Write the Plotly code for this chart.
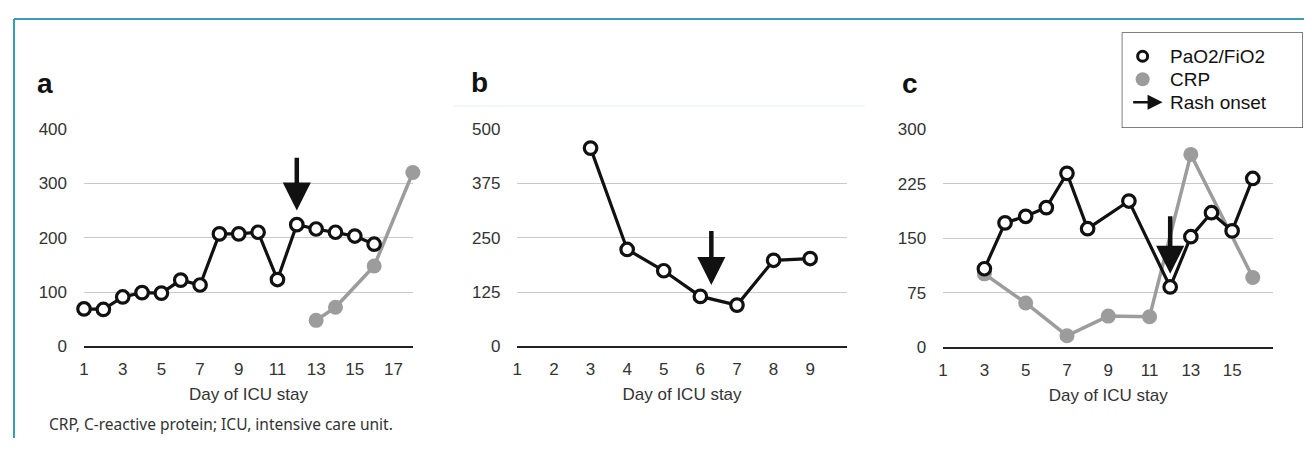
import plotly.graph_objects as go

# ---------------- data ----------------
# Panel a
a_days_pf = [1, 2, 3, 4, 5, 6, 7, 8, 9, 10, 11, 12, 13, 14, 15, 16]
a_pf = [69, 68, 91, 99, 98, 122, 113, 207, 207, 210, 123, 224, 216, 210, 203, 188]
a_days_crp = [13, 14, 16, 18]
a_crp = [48, 72, 148, 320]
a_rash = {"day": 12, "tip": 250, "tail": 350}
a_yticks = [0, 100, 200, 300, 400]
a_xticks = [1, 3, 5, 7, 9, 11, 13, 15, 17]

# Panel b
b_days_pf = [3, 4, 5, 6, 7, 8, 9]
b_pf = [456, 223, 174, 115, 95, 198, 202]
b_rash = {"day": 6.3, "tip": 141, "tail": 269}
b_yticks = [0, 125, 250, 375, 500]
b_xticks = [1, 2, 3, 4, 5, 6, 7, 8, 9]

# Panel c
c_days_pf = [3, 4, 5, 6, 7, 8, 10, 12, 13, 14, 15, 16]
c_pf = [108, 171, 180, 192, 239, 163, 201, 83, 152, 185, 160, 232]
c_days_crp = [3, 5, 7, 9, 11, 13, 16]
c_crp = [101, 61, 16, 43, 42, 265, 96]
c_rash = {"day": 12, "tip": 101, "tail": 182}
c_yticks = [0, 75, 150, 225, 300]
c_xticks = [1, 3, 5, 7, 9, 11, 13, 15]

panel_labels = ["a", "b", "c"]
x_title = "Day of ICU stay"
legend_labels = ["PaO2/FiO2", "CRP", "Rash onset"]
caption = "CRP, C-reactive protein; ICU, intensive care unit."

# ---------------- style ----------------
# The page body keeps its default 8px margin, so the figure is 16px smaller than
# the 1312x456 window and sits at (8, 8).
OFF = 8
W, H = 1312 - 2 * OFF, 456 - 2 * OFF
BLACK = "#111111"
GRAY = "#9c9c9c"
GRID = "#c9c9c9"
FONT = "Liberation Sans, Arial, sans-serif"
TICKFONT = dict(family=FONT, size=17, color="#333333")


def px(x):
    return min(1.0, max(0.0, (x - OFF) / W))


def py(y):
    return min(1.0, max(0.0, 1 - (y - OFF) / H))


fig = go.Figure()

pf_marker = dict(symbol="circle", size=12.5, color="white", line=dict(color=BLACK, width=3.2))
crp_marker = dict(symbol="circle", size=15, color=GRAY, line=dict(color=GRAY, width=0))

panels = [
    ("x", "y", a_days_crp, a_crp, a_days_pf, a_pf, a_rash),
    ("x2", "y2", None, None, b_days_pf, b_pf, b_rash),
    ("x3", "y3", c_days_crp, c_crp, c_days_pf, c_pf, c_rash),
]

for xa, ya, dc, vc, dp, vp, rash in panels:
    if dc is not None:
        fig.add_trace(go.Scatter(x=dc, y=vc, mode="lines+markers", xaxis=xa, yaxis=ya,
                                 line=dict(color=GRAY, width=3.5), marker=crp_marker,
                                 cliponaxis=False, showlegend=False, name="CRP"))
    fig.add_trace(go.Scatter(x=dp, y=vp, mode="lines+markers", xaxis=xa, yaxis=ya,
                             line=dict(color=BLACK, width=3.2), marker=pf_marker,
                             cliponaxis=False, showlegend=False, name="PaO2/FiO2"))
    fig.add_annotation(x=rash["day"], y=rash["tip"], ax=rash["day"], ay=rash["tail"],
                       xref=xa, yref=ya, axref=xa, ayref=ya, text="", showarrow=True,
                       arrowhead=2, arrowsize=1.25, arrowwidth=4.5, arrowcolor=BLACK)

# plot areas in window pixels (left, right, top, bottom)
dom = {
    "a": (79.3, 409.4, 125, 352.3),
    "b": (514.3, 845.0, 125, 352.3),
    "c": (941.7, 1273.3, 125, 353.3),
}


def xaxis_cfg(d, rng, ticks):
    return dict(domain=[px(d[0]), px(d[1])], range=rng, tickvals=ticks,
                showgrid=False, zeroline=False, showline=True, linecolor="#222222",
                linewidth=2, ticks="", tickfont=TICKFONT, ticklabelstandoff=6,
                title=dict(text=x_title, font=dict(family=FONT, size=17, color="#333333"),
                           standoff=10),
                fixedrange=True)


def yaxis_cfg(d, rng, ticks, anchor):
    return dict(domain=[py(d[3]), py(d[2])], range=rng, tickvals=ticks,
                showgrid=True, gridcolor=GRID, gridwidth=1, zeroline=False, showline=False,
                ticks="", tickfont=TICKFONT, ticklabelstandoff=16, anchor=anchor,
                fixedrange=True)


LEG = (1121, 1303, 24, 124)  # legend box, window pixels

fig.update_layout(
    width=W, height=H, autosize=False, margin=dict(l=0, r=0, t=0, b=0),
    paper_bgcolor="white", plot_bgcolor="white", showlegend=False,
    xaxis=dict(xaxis_cfg(dom["a"], [1, 18], a_xticks), anchor="y"),
    yaxis=yaxis_cfg(dom["a"], [0, 400], a_yticks, "x"),
    xaxis2=dict(xaxis_cfg(dom["b"], [1, 10], b_xticks), anchor="y2"),
    yaxis2=yaxis_cfg(dom["b"], [0, 500], b_yticks, "x2"),
    xaxis3=dict(xaxis_cfg(dom["c"], [1, 17], c_xticks), anchor="y3"),
    yaxis3=yaxis_cfg(dom["c"], [0, 300], c_yticks, "x3"),
    # legend-glyph axis (window-pixel units)
    xaxis4=dict(domain=[px(LEG[0]), px(LEG[1])], range=[LEG[0], LEG[1]], visible=False,
                anchor="y4", fixedrange=True),
    yaxis4=dict(domain=[py(LEG[3]), py(LEG[2])], range=[LEG[3], LEG[2]], visible=False,
                anchor="x4", fixedrange=True),
)

# frame (teal top and left rule)
fig.add_shape(type="line", xref="paper", yref="paper", x0=px(9), x1=1, y0=py(10), y1=py(10),
              line=dict(color="#3a9db6", width=2))
fig.add_shape(type="line", xref="paper", yref="paper", x0=px(9), x1=px(9), y0=0, y1=py(10),
              line=dict(color="#3a9db6", width=2))
# faint rule under panel b label
fig.add_shape(type="line", xref="paper", yref="paper", x0=px(450), x1=px(863), y0=py(101),
              y1=py(101), line=dict(color="#e4edf1", width=1))

# legend box
fig.add_shape(type="rect", xref="x4", yref="y4", x0=LEG[0], x1=LEG[1], y0=LEG[2], y1=LEG[3],
              fillcolor="white", line=dict(color="#555555", width=1.5), layer="below")
fig.add_trace(go.Scatter(x=[1142], y=[49], mode="markers", xaxis="x4", yaxis="y4",
                         marker=dict(symbol="circle", size=10, color="white",
                                     line=dict(color=BLACK, width=3)),
                         cliponaxis=False, showlegend=False, hoverinfo="skip"))
fig.add_trace(go.Scatter(x=[1142], y=[73], mode="markers", xaxis="x4", yaxis="y4",
                         marker=dict(symbol="circle", size=14, color=GRAY),
                         cliponaxis=False, showlegend=False, hoverinfo="skip"))
fig.add_annotation(x=1162, y=97, ax=1131, ay=97, xref="x4", yref="y4", axref="x4", ayref="y4",
                   text="", showarrow=True, arrowhead=2, arrowsize=1.2, arrowwidth=2.5,
                   arrowcolor=BLACK)
for lbl, yy in zip(legend_labels, [49, 73, 97]):
    fig.add_annotation(x=1167, y=yy, xref="x4", yref="y4", text=lbl, showarrow=False,
                       xanchor="left", yanchor="middle",
                       font=dict(family=FONT, size=19, color="#111111"))

# panel labels
for lbl, xx, yy in zip(panel_labels, [40, 476, 908], [77, 76, 77]):
    fig.add_annotation(x=px(xx), y=py(yy), xref="paper", yref="paper", text=f"<b>{lbl}</b>",
                       showarrow=False, xanchor="center", yanchor="middle",
                       font=dict(family=FONT, size=28, color="#111111"))

# caption
fig.add_annotation(x=px(42), y=py(433), xref="paper", yref="paper", text=caption,
                   showarrow=False, xanchor="left", yanchor="middle",
                   font=dict(family="Noto Sans, Open Sans, sans-serif", size=15.5,
                             color="#333333"))

fig.write_html("out.html", config={"displayModeBar": False})
